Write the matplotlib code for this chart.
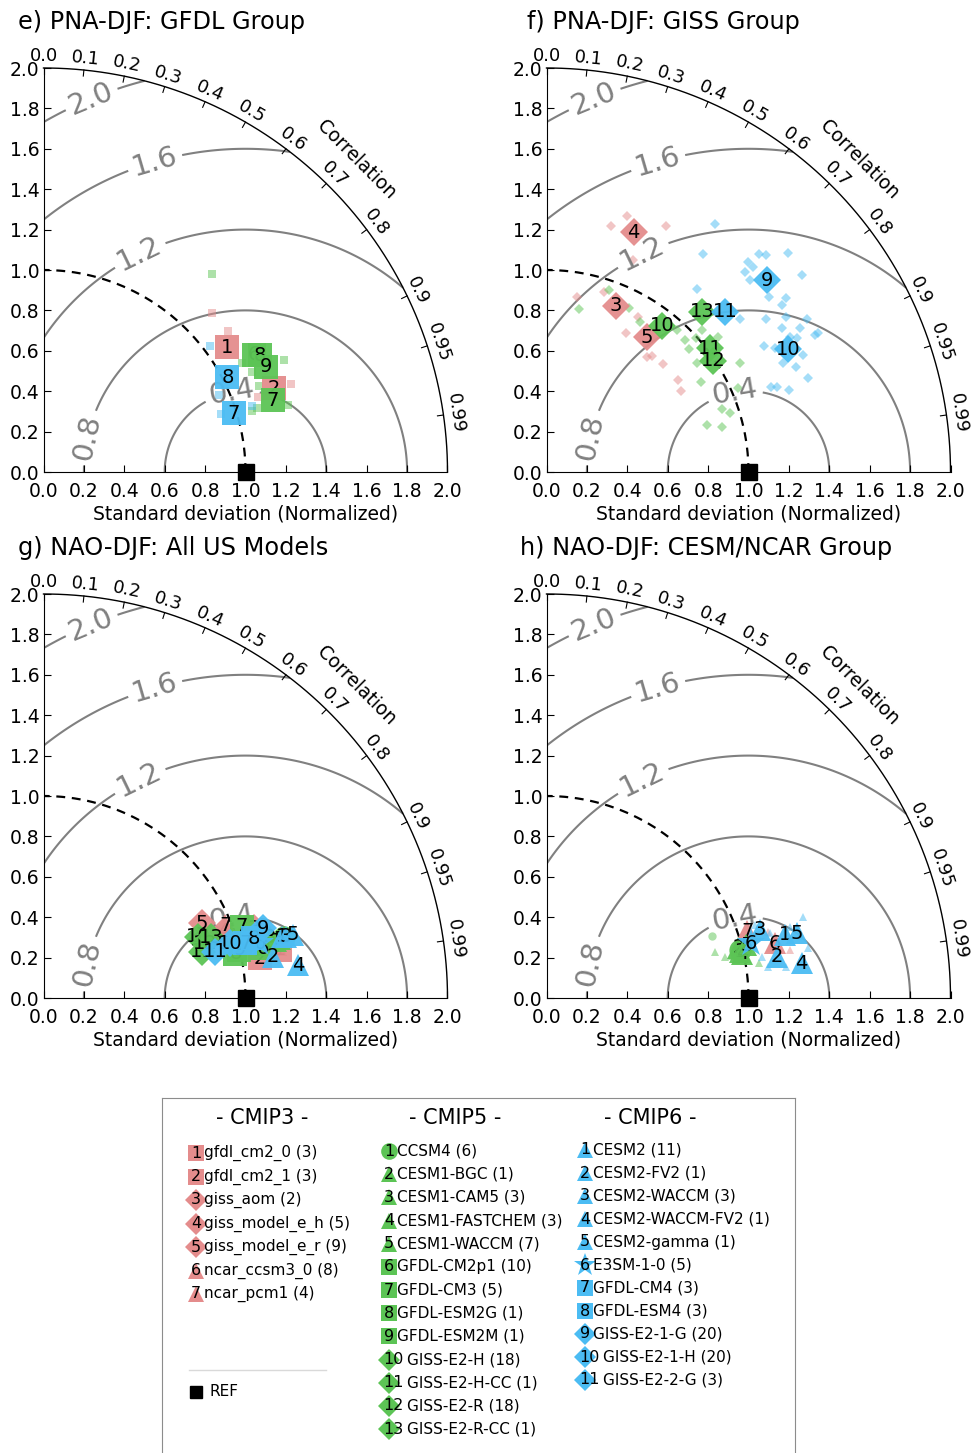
import numpy as np
import matplotlib
matplotlib.use("Agg")
import matplotlib.pyplot as plt

# Colours
PINK  = "#e48c8c"
GREEN = "#5cc455"
BLUE  = "#4bbcf3"
GREY  = "#808080"
GROUP_COLOR = {"c3": PINK, "c5": GREEN, "c6": BLUE}

# Legend content
CMIP3_NAMES = ["gfdl_cm2_0 (3)", "gfdl_cm2_1 (3)", "giss_aom (2)", "giss_model_e_h (5)",
               "giss_model_e_r (9)", "ncar_ccsm3_0 (8)", "ncar_pcm1 (4)"]
CMIP5_NAMES = ["CCSM4 (6)", "CESM1-BGC (1)", "CESM1-CAM5 (3)", "CESM1-FASTCHEM (3)",
               "CESM1-WACCM (7)", "GFDL-CM2p1 (10)", "GFDL-CM3 (5)", "GFDL-ESM2G (1)",
               "GFDL-ESM2M (1)", "GISS-E2-H (18)", "GISS-E2-H-CC (1)", "GISS-E2-R (18)",
               "GISS-E2-R-CC (1)"]
CMIP6_NAMES = ["CESM2 (11)", "CESM2-FV2 (1)", "CESM2-WACCM (3)", "CESM2-WACCM-FV2 (1)",
               "CESM2-gamma (1)", "E3SM-1-0 (5)", "GFDL-CM4 (3)", "GFDL-ESM4 (3)",
               "GISS-E2-1-G (20)", "GISS-E2-1-H (20)", "GISS-E2-2-G (3)"]
MARKERS = {
    "c3": ["s", "s", "D", "D", "D", "^", "^"],
    "c5": ["o", "^", "^", "^", "^", "s", "s", "s", "s", "D", "D", "D", "D"],
    "c6": ["^", "^", "^", "^", "^", "*", "s", "s", "D", "D", "D"],
}

CORR_TICKS = [0.0, 0.1, 0.2, 0.3, 0.4, 0.5, 0.6, 0.7, 0.8, 0.9, 0.95, 0.99]
CORR_LABELS = ["0.0", "0.1", "0.2", "0.3", "0.4", "0.5", "0.6", "0.7", "0.8", "0.9", "0.95", "0.99"]
RMS_LEVELS = [0.4, 0.8, 1.2, 1.6, 2.0]
RMS_LABEL_POS = [(0.93, 0.41), (0.22, 0.17), (0.48, 1.07), (0.55, 1.54), (0.24, 1.84)]

# x = std*corr, y = std*sqrt(1-corr^2)  (normalised std)
# e) PNA-DJF: GFDL Group
E_GROUP = ["c3", "c3", "c5", "c5", "c5", "c5", "c6", "c6"]
E_NUM   = [1, 2, 6, 7, 8, 9, 8, 7]
E_X     = [0.907, 1.141, 1.040, 1.134, 1.072, 1.100, 0.910, 0.943]
E_Y     = [0.617, 0.414, 0.580, 0.356, 0.579, 0.521, 0.469, 0.290]
E_SM_GROUP = ["c3"] * 4 + ["c5"] * 8 + ["c6"] * 4
E_SM_X = [0.835, 0.915, 1.226, 1.063,
          0.835, 1.190, 0.981, 1.030, 1.068, 1.055, 1.030, 1.210,
          0.825, 0.869, 0.879, 1.030]
E_SM_Y = [0.789, 0.698, 0.436, 0.370,
          0.980, 0.554, 0.538, 0.497, 0.426, 0.315, 0.300, 0.330,
          0.624, 0.381, 0.287, 0.327]
E_SM_MARK = ["s"] * 16

# f) PNA-DJF: GISS Group
F_GROUP = ["c3", "c3", "c3", "c5", "c5", "c5", "c5", "c6", "c6", "c6"]
F_NUM   = [3, 4, 5, 10, 11, 12, 13, 9, 10, 11]
F_X     = [0.344, 0.431, 0.497, 0.571, 0.810, 0.826, 0.769, 1.093, 1.197, 0.884]
F_Y     = [0.822, 1.187, 0.667, 0.723, 0.612, 0.551, 0.794, 0.950, 0.607, 0.794]
F_SM_GROUP = ["c3"] * 13 + ["c5"] * 18 + ["c6"] * 33
F_SM_X = [0.398, 0.319, 0.593, 0.426, 0.286, 0.151, 0.451, 0.395, 0.497, 0.522, 0.579, 0.653, 0.665,
          0.308, 0.163, 0.407, 0.461, 0.645, 0.686, 0.703, 0.741, 0.851, 0.769, 0.744, 0.765, 0.958,
          0.950, 0.868, 0.909, 0.797, 0.868,
          0.835, 0.774, 0.744, 0.996, 1.024, 1.053, 1.086, 1.197, 0.984, 1.007, 1.267, 1.103, 1.185,
          1.164, 0.958, 1.086, 1.188, 1.291, 1.164, 1.254, 1.328, 1.345, 1.077, 1.131, 1.205, 1.238,
          1.271, 1.172, 1.235, 1.295, 1.110, 1.142, 1.202]
F_SM_Y = [1.269, 1.219, 1.219, 1.050, 0.893, 0.865, 0.766, 0.690, 0.571, 0.574, 0.535, 0.455, 0.403,
          0.901, 0.807, 0.810, 0.744, 0.703, 0.653, 0.607, 0.665, 0.670, 0.703, 0.538, 0.444, 0.538,
          0.414, 0.310, 0.294, 0.233, 0.224,
          1.226, 1.078, 0.908, 1.041, 1.016, 1.078, 1.074, 1.082, 0.992, 0.950, 0.975, 0.865, 0.860,
          0.827, 0.757, 0.757, 0.766, 0.757, 0.711, 0.711, 0.678, 0.686, 0.624, 0.612, 0.670, 0.662,
          0.579, 0.538, 0.521, 0.467, 0.422, 0.422, 0.406]
F_SM_MARK = ["D"] * 64

# g) NAO-DJF: All US Models
G_GROUP = ["c3"] * 7 + ["c5"] * 13 + ["c6"] * 11
G_NUM   = [1, 2, 3, 4, 5, 6, 7,
           1, 2, 3, 4, 5, 6, 7, 8, 9, 10, 11, 12, 13,
           1, 2, 3, 4, 5, 6, 7, 8, 9, 10, 11]
G_X = [1.170, 1.072, 1.042, 0.890, 0.784, 1.150, 0.900,
       1.190, 1.150, 1.120, 1.100, 1.170, 1.088, 0.981, 0.950, 0.970, 0.767, 0.784, 0.800, 0.830,
       1.180, 1.137, 1.200, 1.261, 1.236, 1.070, 0.998, 1.039, 1.088, 0.923, 0.849]
G_Y = [0.238, 0.196, 0.345, 0.328, 0.370, 0.260, 0.360,
       0.300, 0.280, 0.300, 0.260, 0.290, 0.246, 0.353, 0.220, 0.240, 0.304, 0.229, 0.270, 0.300,
       0.304, 0.204, 0.304, 0.163, 0.312, 0.270, 0.271, 0.296, 0.345, 0.271, 0.229]

# h) NAO-DJF: CESM/NCAR Group
H_GROUP = ["c3", "c3", "c5", "c5", "c5", "c5", "c5", "c6", "c6", "c6", "c6", "c6", "c6"]
H_NUM   = [6, 7, 1, 2, 3, 4, 5, 1, 2, 3, 4, 5, 6]
H_X = [1.130, 0.995, 0.960, 0.950, 0.960, 0.970, 0.990, 1.180, 1.139, 1.057, 1.263, 1.238, 1.011]
H_Y = [0.270, 0.330, 0.240, 0.250, 0.230, 0.220, 0.260, 0.312, 0.205, 0.337, 0.172, 0.320, 0.271]
H_SM_GROUP = ["c3"] * 4 + ["c5"] * 6 + ["c6"] * 8
H_SM_X = [1.098, 1.106, 1.205, 0.933,
          0.818, 0.835, 0.884, 1.053, 0.920, 0.940,
          1.271, 1.106, 1.205, 1.098, 1.188, 1.295, 1.065, 1.032]
H_SM_Y = [0.328, 0.246, 0.238, 0.262,
          0.307, 0.229, 0.204, 0.172, 0.210, 0.190,
          0.403, 0.320, 0.353, 0.155, 0.155, 0.246, 0.205, 0.361]
H_SM_MARK = ["^"] * 4 + ["o"] + ["^"] * 13

BIG_MS = {"s": 17, "D": 14.5, "^": 16, "o": 16, "*": 21}
SMALL_MS = {"s": 5.5, "D": 5, "^": 5.5, "o": 6}
LEG_MS = {"s": 12, "D": 11.5, "^": 12, "o": 12, "*": 17}

W, H = 972, 1453


def taylor_frame(ax):
    ax.set_xlim(0, 2)
    ax.set_ylim(0, 2)
    ax.set_aspect("equal")
    for s in ["top", "right"]:
        ax.spines[s].set_visible(False)
    ticks = np.arange(0, 2.01, 0.2)
    ax.set_xticks(ticks)
    ax.set_yticks(ticks)
    ax.set_xticklabels([f"{t:.1f}" for t in ticks])
    ax.set_yticklabels([f"{t:.1f}" for t in ticks])
    ax.tick_params(direction="in", length=5, labelsize=13.5)
    ax.tick_params(axis="x", pad=7)
    ax.tick_params(axis="y", pad=3)
    ax.set_xlabel("Standard deviation (Normalized)", fontsize=13.5, labelpad=3)

    th = np.linspace(0, np.pi / 2, 300)
    ax.plot(2 * np.cos(th), 2 * np.sin(th), color="k", lw=1, clip_on=False)
    ax.plot(np.cos(th), np.sin(th), color="k", lw=1.6, ls=(0, (4, 3)), zorder=2)

    for c, lab in zip(CORR_TICKS, CORR_LABELS):
        t = np.arccos(c)
        ax.plot([1.97 * np.cos(t), 2 * np.cos(t)], [1.97 * np.sin(t), 2 * np.sin(t)],
                color="k", lw=0.8, clip_on=False)
        ax.text(2.06 * np.cos(t), 2.06 * np.sin(t), lab,
                rotation=np.degrees(t) - 90, rotation_mode="anchor",
                ha="center", va="center", fontsize=13)
    ax.text(2.19 * np.cos(np.pi / 4), 2.19 * np.sin(np.pi / 4), "Correlation",
            rotation=-45, rotation_mode="anchor", ha="center", va="center", fontsize=13.5)

    rr, tt = np.meshgrid(np.linspace(0, 2, 300), np.linspace(0, np.pi / 2, 300))
    X = rr * np.cos(tt)
    Y = rr * np.sin(tt)
    Z = np.sqrt((X - 1) ** 2 + Y ** 2)
    cs = ax.contour(X, Y, Z, levels=RMS_LEVELS, colors=GREY, linewidths=1.5, zorder=1)
    ax.clabel(cs, fmt="%.1f", fontsize=21, inline=True, manual=RMS_LABEL_POS)

    ax.plot(1, 0, "ks", ms=11, clip_on=False, zorder=50)


def draw_small(ax, groups, xs, ys, marks):
    for g, x, y, m in zip(groups, xs, ys, marks):
        ax.plot(x, y, marker=m, ms=SMALL_MS[m], color=GROUP_COLOR[g], alpha=0.5,
                mew=0, ls="none", zorder=2)


def draw_big(ax, groups, nums, xs, ys):
    z = 5
    for g, n, x, y in zip(groups, nums, xs, ys):
        m = MARKERS[g][n - 1]
        ax.plot(x, y, marker=m, ms=BIG_MS[m], color=GROUP_COLOR[g], mew=0,
                ls="none", zorder=z, alpha=0.95)
        ax.text(x, y, str(n), ha="center", va="center", fontsize=14, zorder=z + 1)
        z += 2


fig = plt.figure(figsize=(W / 100, H / 100), dpi=100)

panels = [
    ("e) PNA-DJF: GFDL Group", 43, 472, 18, 22, (E_GROUP, E_NUM, E_X, E_Y),
     (E_SM_GROUP, E_SM_X, E_SM_Y, E_SM_MARK)),
    ("f) PNA-DJF: GISS Group", 546, 472, 527, 22, (F_GROUP, F_NUM, F_X, F_Y),
     (F_SM_GROUP, F_SM_X, F_SM_Y, F_SM_MARK)),
    ("g) NAO-DJF: All US Models", 43, 998, 18, 548, (G_GROUP, G_NUM, G_X, G_Y), None),
    ("h) NAO-DJF: CESM/NCAR Group", 546, 998, 520, 548, (H_GROUP, H_NUM, H_X, H_Y),
     (H_SM_GROUP, H_SM_X, H_SM_Y, H_SM_MARK)),
]
for title, x0, y0, tx, ty, big, small in panels:
    ax = fig.add_axes([x0 / W, 1 - y0 / H, 405 / W, 404 / H])
    taylor_frame(ax)
    if small is not None:
        draw_small(ax, *small)
    draw_big(ax, *big)
    fig.text(tx / W, 1 - ty / H, title, fontsize=17.3, ha="left", va="center")

# Legend box
lax = fig.add_axes([162 / W, 0, 633 / W, 355 / H])
lax.set_xlim(162, 795)
lax.set_ylim(1453, 1098)
lax.set_xticks([])
lax.set_yticks([])
lax.spines["bottom"].set_visible(False)
for s in ["top", "left", "right"]:
    lax.spines[s].set_color("0.55")

columns = [
    ("- CMIP3 -", "c3", CMIP3_NAMES, 262, 196, 1153, 23.5),
    ("- CMIP5 -", "c5", CMIP5_NAMES, 455, 389, 1151, 23.17),
    ("- CMIP6 -", "c6", CMIP6_NAMES, 650, 585, 1150, 23.0),
]
for head, g, names, hx, mx, ry0, dy in columns:
    lax.text(hx, 1118, head, ha="center", va="center", fontsize=15)
    for i, name in enumerate(names):
        y = ry0 + i * dy
        m = MARKERS[g][i]
        lax.plot(mx, y, marker=m, ms=LEG_MS[m], color=GROUP_COLOR[g], mew=0, ls="none")
        num = str(i + 1)
        off = 4 if len(num) > 1 else 0
        lax.text(mx + off, y, num, ha="center", va="center", fontsize=11.5)
        lax.text(mx + 8 + off * 2.5, y, name, ha="left", va="center", fontsize=11)

lax.plot([189, 326], [1370, 1370], color="0.85", lw=1)
lax.plot(196, 1392, "ks", ms=9)
lax.text(209, 1392, "REF", ha="left", va="center", fontsize=11)

fig.savefig("out.png", dpi=100)
